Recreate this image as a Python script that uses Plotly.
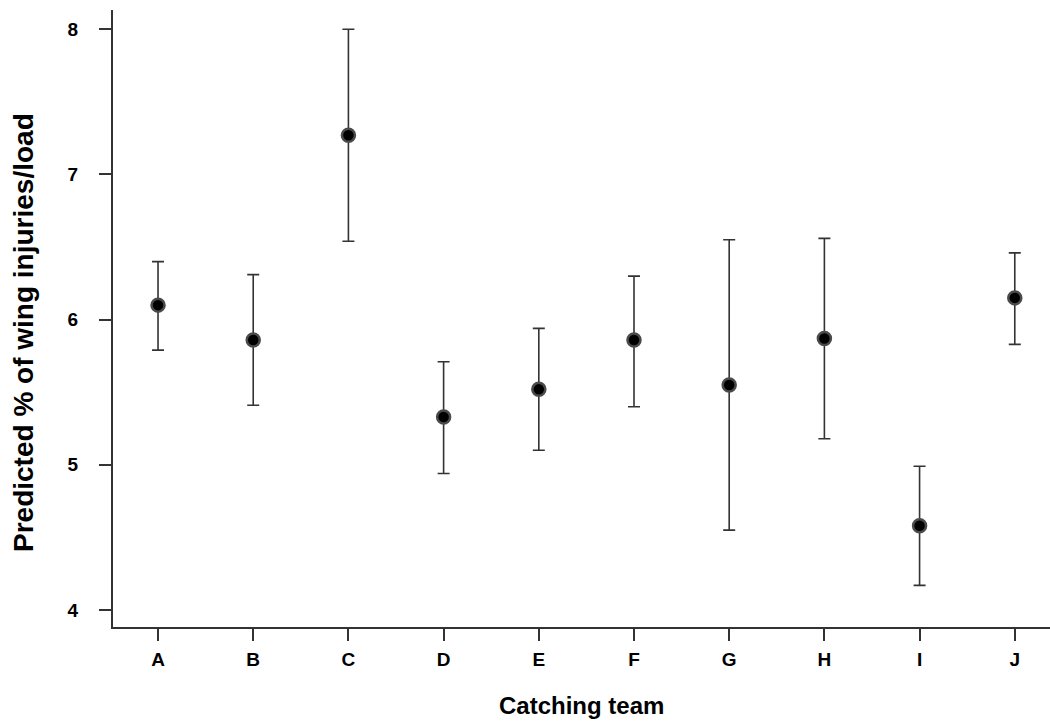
import plotly.graph_objects as go

teams = ["A", "B", "C", "D", "E", "F", "G", "H", "I", "J"]
predicted = [6.10, 5.86, 7.27, 5.33, 5.52, 5.86, 5.55, 5.87, 4.58, 6.15]
upper = [6.40, 6.31, 8.00, 5.71, 5.94, 6.30, 6.55, 6.56, 4.99, 6.46]
lower = [5.79, 5.41, 6.54, 4.94, 5.10, 5.40, 4.55, 5.18, 4.17, 5.83]
y_ticks = [4, 5, 6, 7, 8]

xpos = list(range(len(teams)))
err_plus = [u - p for u, p in zip(upper, predicted)]
err_minus = [p - l for p, l in zip(predicted, lower)]

W, H = 1050, 726
ml, mr, mt, mb = 113, 0, 10, 99
pw = W - ml - mr
ph = H - mt - mb

font_family = "Liberation Sans, Arial, sans-serif"
axis_col = "#333333"

fig = go.Figure()
fig.add_trace(go.Scatter(
    x=xpos, y=predicted, mode="markers",
    marker=dict(size=13, color="#000000", line=dict(color="#4a4a4a", width=2.5)),
    error_y=dict(type="data", symmetric=False, array=err_plus, arrayminus=err_minus,
                 color=axis_col, thickness=1.6, width=6),
    showlegend=False,
))

fig.update_layout(
    width=W, height=H,
    margin=dict(l=ml, r=mr, t=mt, b=mb, autoexpand=False),
    paper_bgcolor="white", plot_bgcolor="white",
    font=dict(family=font_family, color="#000000", size=19),
    xaxis=dict(
        range=[-0.473, 9.37], tickmode="array", tickvals=xpos,
        ticktext=["<b>%s</b>" % t for t in teams],
        showline=True, linecolor=axis_col, linewidth=2, mirror=False,
        ticks="outside", ticklen=12, tickwidth=2, tickcolor=axis_col,
        showgrid=False, zeroline=False,
        tickfont=dict(family=font_family, size=19, color="#000000"),
        ticklabelstandoff=2,
    ),
    yaxis=dict(
        range=[3.883, 8.133], tickmode="array", tickvals=y_ticks,
        ticktext=["<b>%d</b>" % t for t in y_ticks],
        showline=True, linecolor=axis_col, linewidth=2, mirror=False,
        ticks="outside", ticklen=12, tickwidth=2, tickcolor=axis_col,
        showgrid=False, zeroline=False,
        tickfont=dict(family=font_family, size=19, color="#000000"),
        ticklabelstandoff=17,
    ),
    annotations=[
        dict(text="<b>Catching team</b>", xref="paper", yref="paper",
             x=0.5, y=-(706 - (mt + ph)) / ph, xanchor="center", yanchor="middle",
             showarrow=False, font=dict(family=font_family, size=24, color="#000000")),
        dict(text="<b>Predicted % of wing injuries/load</b>", xref="paper", yref="paper",
             x=-(ml - 24) / pw, y=(mt + ph - 333) / ph, xanchor="center", yanchor="middle",
             textangle=-90, showarrow=False,
             font=dict(family=font_family, size=28, color="#000000")),
    ],
)

fig.write_html("out.html")
